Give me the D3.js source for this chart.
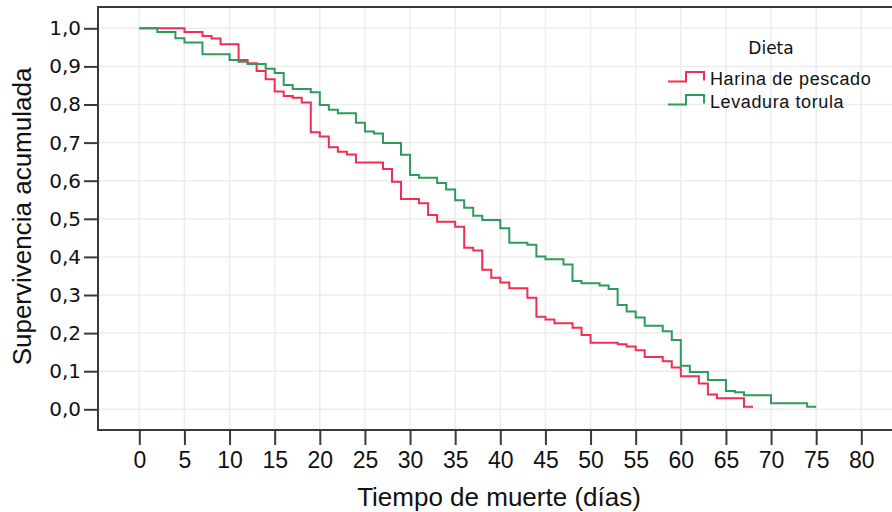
<!DOCTYPE html>
<html><head><meta charset="utf-8">
<script src="https://cdn.jsdelivr.net/npm/d3@7"></script>
<style>html,body{margin:0;padding:0;background:#fff;}svg{display:block;}</style>
</head><body>
<svg id="chart" width="892" height="512"></svg>
<script>
// ---- data ----
const seriesNames = ["Harina de pescado", "Levadura torula"];
const redTimes = [0,5,7,8,9,11,12,13,14,15,16,17,18,19,20,21,22,23,24,27,28,29,31,32,33,35,36,37,38,39,40,41,43,44,45,46,48,49,50,53,54,55,56,58,59,60,62,63,64,67];
const redSurv  = [1.0,0.990,0.980,0.973,0.958,0.917,0.908,0.888,0.866,0.834,0.822,0.818,0.805,0.727,0.716,0.688,0.676,0.669,0.648,0.631,0.597,0.552,0.541,0.510,0.492,0.479,0.424,0.417,0.366,0.345,0.333,0.318,0.293,0.243,0.236,0.226,0.214,0.195,0.175,0.171,0.165,0.155,0.137,0.126,0.110,0.087,0.068,0.039,0.029,0.007];
const redEnd = 68;
const greenTimes = [0,2,4,5,7,10,11,12,14,15,16,17,19,20,21,22,24,25,26,27,29,30,31,33,34,35,36,37,38,40,41,43,44,45,47,48,49,51,52,53,54,55,56,58,59,60,61,63,65,66,67,70,74];
const greenSurv  = [1.0,0.990,0.974,0.963,0.932,0.917,0.912,0.906,0.894,0.883,0.851,0.841,0.832,0.799,0.786,0.777,0.752,0.729,0.724,0.699,0.668,0.615,0.608,0.594,0.577,0.549,0.529,0.508,0.497,0.475,0.437,0.432,0.401,0.394,0.380,0.337,0.331,0.325,0.316,0.274,0.257,0.241,0.219,0.205,0.182,0.114,0.098,0.077,0.048,0.045,0.037,0.016,0.007];
const greenEnd = 75;
const xTicks = d3.range(0, 81, 5);
const yTicks = d3.range(0, 11).map(d => d / 10);
const yTickLabels = yTicks.map(d => d.toFixed(1).replace(".", ","));
const colors = ["#F12D52", "#2E9A5C"];

// ---- layout ----
const svg = d3.select("#chart");
const frame = {left: 98, top: 7, right: 893, bottom: 430};
const x = d3.scaleLinear().domain([0, 80]).range([139.3, 861.3]);
const y = d3.scaleLinear().domain([0, 1]).range([409.3, 28.3]);

// grid
svg.append("g").selectAll("line.gx").data(xTicks).join("line")
  .attr("x1", d => x(d)).attr("x2", d => x(d)).attr("y1", frame.top).attr("y2", frame.bottom)
  .attr("stroke", "#ececec").attr("stroke-width", 1.5);
svg.append("g").selectAll("line.gy").data(yTicks).join("line")
  .attr("x1", frame.left).attr("x2", frame.right).attr("y1", d => y(d)).attr("y2", d => y(d))
  .attr("stroke", "#ececec").attr("stroke-width", 1.5);

// curves
const line = d3.line().x(d => x(d[0])).y(d => y(d[1])).curve(d3.curveStepAfter);
function pts(times, surv, end) {
  const p = times.map((t, i) => [t, surv[i]]);
  p.push([end, surv[surv.length - 1]]);
  return p;
}
const series = [pts(redTimes, redSurv, redEnd), pts(greenTimes, greenSurv, greenEnd)];
svg.append("g").selectAll("path").data(series).join("path")
  .attr("d", line).attr("fill", "none")
  .attr("stroke", (d, i) => colors[i]).attr("stroke-width", 2);

// frame
svg.append("rect").attr("x", frame.left).attr("y", frame.top)
  .attr("width", frame.right - frame.left).attr("height", frame.bottom - frame.top)
  .attr("fill", "none").attr("stroke", "#3a3a3a").attr("stroke-width", 2);

// axes
const xAxis = d3.axisBottom(x).tickValues(xTicks).tickSize(15).tickPadding(7).tickFormat(d => d);
const gx = svg.append("g").attr("transform", `translate(0,${frame.bottom})`).call(xAxis);
gx.select(".domain").remove();
gx.selectAll(".tick line").attr("stroke", "#3a3a3a").attr("stroke-width", 2);
gx.selectAll(".tick text").attr("font-family", "Liberation Sans, Arial, sans-serif")
  .attr("font-size", 23).attr("fill", "#111");

const yAxis = d3.axisLeft(y).tickValues(yTicks).tickSize(14).tickPadding(3)
  .tickFormat((d, i) => yTickLabels[i]);
const gy = svg.append("g").attr("transform", `translate(${frame.left},0)`).call(yAxis);
gy.select(".domain").remove();
gy.selectAll(".tick line").attr("stroke", "#3a3a3a").attr("stroke-width", 2);
gy.selectAll(".tick text").attr("font-family", "DejaVu Sans, sans-serif")
  .attr("font-size", 20).attr("fill", "#111");

// titles
svg.append("text").attr("x", 499).attr("y", 506).attr("text-anchor", "middle")
  .attr("font-family", "Liberation Sans, Arial, sans-serif").attr("font-size", 26).attr("fill", "#111")
  .text("Tiempo de muerte (días)");
svg.append("text").attr("transform", "translate(31,216.5) rotate(-90)").attr("text-anchor", "middle")
  .attr("font-family", "Liberation Sans, Arial, sans-serif").attr("font-size", 26).attr("fill", "#111")
  .text("Supervivencia acumulada");

// legend
const lg = svg.append("g");
lg.append("text").attr("x", 771).attr("y", 54).attr("text-anchor", "middle")
  .attr("font-family", "DejaVu Sans, sans-serif").attr("font-size", 17).attr("fill", "#111").text("Dieta");
const legY = [81.5, 104.5];
seriesNames.forEach((name, i) => {
  const yb = legY[i];
  lg.append("path")
    .attr("d", `M668,${yb} H686 V${yb - 9.5} H704 V${yb - 1}`)
    .attr("fill", "none").attr("stroke", colors[i]).attr("stroke-width", 2);
  lg.append("text").attr("x", 710).attr("y", yb + 3.5)
    .attr("font-family", "Liberation Sans, Arial, sans-serif").attr("font-size", 18)
    .attr("letter-spacing", 0.6).attr("fill", "#111").text(name);
});
</script>
</body></html>
